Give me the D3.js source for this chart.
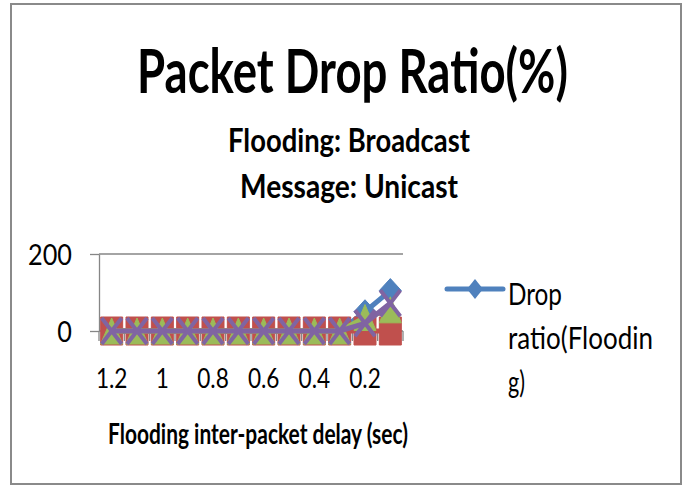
<!DOCTYPE html>
<html>
<head>
<meta charset="utf-8">
<script src="https://cdn.jsdelivr.net/npm/d3@7"></script>
<style>
  body { margin: 0; background: #fff; }
  svg { display: block; }
  text { font-family: Lato, "Open Sans", sans-serif; fill: #000; }
</style>
</head>
<body>
<svg id="chart" width="685" height="486"></svg>
<script>
// Flooding inter-packet delay categories (sec) and the labels shown on the axis
const categories = ["1.2", "1.1", "1", "0.9", "0.8", "0.7", "0.6", "0.5", "0.4", "0.3", "0.2", "0.1"];
const tickLabels = ["1.2", "1", "0.8", "0.6", "0.4", "0.2"];
const yTicks = [0, 200];

// Drop ratio (%) per series
const dropFlooding = [0, 0, 0, 0, 0, 0, 0, 0, 0, 0, 50, 105];
const dropSeries2  = [0, 0, 0, 0, 0, 0, 0, 0, 0, 0, 0, 0];
const dropSeries3  = [0, 0, 0, 0, 0, 0, 0, 0, 0, 0, 35, 55];
const dropSeries4  = [0, 0, 0, 0, 0, 0, 0, 0, 0, 0, 20, 72];

const legendLines = ["Drop", "ratio(Floodin", "g)"];

const svg = d3.select("#chart");
const axisColor = "#868686";

// chart frame
svg.append("rect")
  .attr("x", 11).attr("y", 4).attr("width", 670).attr("height", 480)
  .attr("fill", "#fff").attr("stroke", "#8a8a8a").attr("stroke-width", 2);

// text squeezed horizontally to a target width (condensed look)
function fitted(txt, x, y, size, weight, len, anchor) {
  const t = svg.append("text")
    .attr("x", 0).attr("y", 0)
    .attr("font-size", size).attr("font-weight", weight)
    .attr("text-anchor", anchor || "middle")
    .text(txt);
  const natural = t.node().getComputedTextLength() || len;
  t.attr("transform", `translate(${x},${y}) scale(${len / natural},1)`);
  return t;
}
fitted("Packet Drop Ratio(%)", 352.5, 93, 62, 700, 431);
fitted("Flooding: Broadcast", 349, 152, 33, 700, 242);
fitted("Message: Unicast", 349, 198, 33, 700, 218);

// scales
const x = d3.scaleBand().domain(categories).range([99, 403]);
const y = d3.scaleLinear().domain([0, 200]).range([331, 254]);
const cx = c => x(c) + x.bandwidth() / 2;

// gridlines
svg.append("g").selectAll("line")
  .data(yTicks.filter(t => t !== 0))
  .join("line")
  .attr("x1", x.range()[0]).attr("x2", x.range()[1])
  .attr("y1", d => y(d)).attr("y2", d => y(d))
  .attr("stroke", axisColor).attr("stroke-width", 1.3);

// y axis
const gy = svg.append("g").attr("transform", `translate(${x.range()[0]},0)`)
  .call(d3.axisLeft(y).tickValues(yTicks).tickSize(9).tickSizeOuter(0).tickFormat(d3.format("d")));
gy.select(".domain").attr("stroke", axisColor).attr("stroke-width", 1.3);
gy.selectAll(".tick line").attr("stroke", axisColor).attr("stroke-width", 1.3);
gy.selectAll(".tick text")
  .attr("x", 0).attr("dy", "0.35em")
  .attr("transform", "translate(-27,0) scale(0.87,1)")
  .attr("font-size", 29).attr("font-family", "Lato, 'Open Sans', sans-serif")
  .attr("text-anchor", "end").attr("fill", "#000");

// x axis line and category boundary ticks
svg.append("line")
  .attr("x1", x.range()[0]).attr("x2", x.range()[1])
  .attr("y1", y(0)).attr("y2", y(0))
  .attr("stroke", axisColor).attr("stroke-width", 1.3);
svg.append("g").selectAll("line")
  .data(d3.range(categories.length + 1))
  .join("line")
  .attr("x1", i => x.range()[0] + i * x.step()).attr("x2", i => x.range()[0] + i * x.step())
  .attr("y1", y(0)).attr("y2", y(0) + 10)
  .attr("stroke", axisColor).attr("stroke-width", 1.3);

const gx = svg.append("g").attr("transform", `translate(0,${y(0)})`)
  .call(d3.axisBottom(x).tickValues(tickLabels).tickSize(0));
gx.select(".domain").remove();
gx.selectAll(".tick text")
  .attr("y", 57).attr("dy", 0)
  .attr("transform", "scale(0.87,1)")
  .attr("font-size", 26).attr("font-family", "Lato, 'Open Sans', sans-serif")
  .attr("fill", "#000");

fitted("Flooding inter-packet delay (sec)", 258, 444, 29, 700, 300);

// marker shapes (slightly taller than wide)
const markers = {
  diamond: (px, py, w, h) => `M${px},${py - h}L${px + w},${py}L${px},${py + h}L${px - w},${py}Z`,
  square: (px, py, w, h) => `M${px - w},${py - h}H${px + w}V${py + h}H${px - w}Z`,
  triangle: (px, py, w, h) => `M${px},${py - h}L${px + w},${py + h}L${px - w},${py + h}Z`,
  cross: (px, py, w, h) => `M${px - w},${py - h}L${px + w},${py + h}M${px + w},${py - h}L${px - w},${py + h}`
};

const series = [
  { values: dropFlooding, color: "#4F81BD", shape: "diamond", w: 11, h: 12 },
  { values: dropSeries2,  color: "#C0504D", shape: "square",  w: 11, h: 14 },
  { values: dropSeries3,  color: "#9BBB59", shape: "triangle", w: 11, h: 13 },
  { values: dropSeries4,  color: "#8064A2", shape: "cross",   w: 10, h: 13 }
];

const line = d3.line().x((d, i) => cx(categories[i])).y(d => y(d));

series.forEach(s => {
  const g = svg.append("g");
  g.append("path")
    .attr("d", line(s.values))
    .attr("fill", "none").attr("stroke", s.color)
    .attr("stroke-width", 5).attr("stroke-linejoin", "round").attr("stroke-linecap", "round");
  g.selectAll("path.m")
    .data(s.values)
    .join("path")
    .attr("class", "m")
    .attr("d", (d, i) => markers[s.shape](cx(categories[i]), y(d), s.w, s.h))
    .attr("fill", s.shape === "cross" ? "none" : s.color)
    .attr("stroke", s.color)
    .attr("stroke-width", s.shape === "cross" ? 4 : 1)
    .attr("stroke-linejoin", "round");
});

// legend
const lg = svg.append("g");
lg.append("line")
  .attr("x1", 447).attr("x2", 503).attr("y1", 289).attr("y2", 289)
  .attr("stroke", "#4F81BD").attr("stroke-width", 5).attr("stroke-linecap", "round");
lg.append("path")
  .attr("d", markers.diamond(475, 289, 8, 10))
  .attr("fill", "#4F81BD");
const legendWidths = [54, 145, 17];
legendLines.forEach((t, i) => {
  fitted(t, 508, 305 + i * 44, 31, 400, legendWidths[i], "start");
});
</script>
</body>
</html>
